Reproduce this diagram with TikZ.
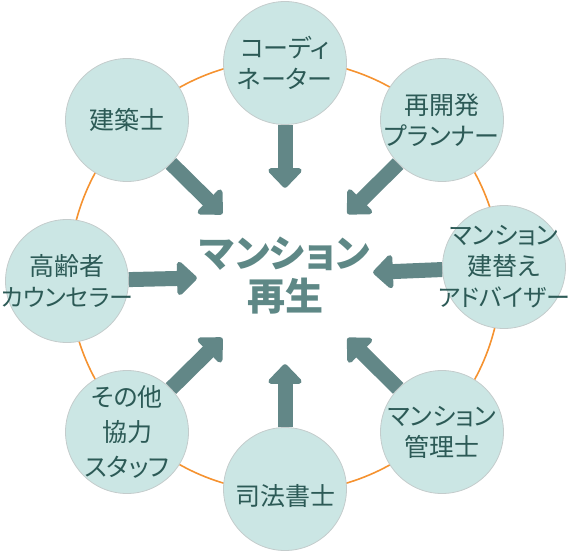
\documentclass[tikz,border=0pt]{standalone}
\usepackage{fontspec}
\newfontfamily\jp[RawFeature=+palt]{Noto Sans CJK JP}
\usetikzlibrary{arrows.meta}
\definecolor{ringorange}{RGB}{245,146,48}
\definecolor{bubblefill}{RGB}{203,230,228}
\definecolor{bubbleline}{RGB}{196,204,204}
\definecolor{arrowteal}{RGB}{98,135,135}
\definecolor{labelteal}{RGB}{44,90,86}
\definecolor{hubteal}{RGB}{94,136,134}
\tikzset{
	bubble/.style={circle, draw=bubbleline, line width=0.8pt, fill=bubblefill, minimum size=123pt, inner sep=0pt},
	tag/.style={align=center, text=labelteal, inner sep=0pt, font=\jp\fontsize{25}{31}\selectfont},
	hubtag/.style={align=center, text=hubteal, inner sep=0pt, font=\jp\bfseries\fontsize{38}{43}\selectfont},
	push/.style={draw=arrowteal, line width=15pt, -{Triangle[width=39pt,length=21pt,round]}},
}

\begin{document}
\begin{tikzpicture}[x=1pt, y=-1pt]
		%%%%% START %%%%%
		\useasboundingbox (0,0) rectangle (570,552);
		
		\draw[ringorange, line width=1.6pt] (285,276) circle (216pt);
		
		\node[circle, minimum size=176pt] (hub) at (285,276) {};
		\node[hubtag] at (hub) {マンション\\再生};
		
		\node[bubble] (coord) at (285,63) {};
		\node[tag] at (coord) {コーディ\\ネーター};
		\node[bubble] (planner) at (442,120) {};
		\node[tag] at (planner) {再開発\\プランナー};
		\node[bubble] (adviser) at (504,267) {};
		\node[tag] at (adviser) {マンション\\建替え\\{\fontsize{24}{31}\selectfont アドバイザー}};
		\node[bubble] (manager) at (442,432) {};
		\node[tag] at (manager) {マンション\\管理士};
		\node[bubble] (scrivener) at (285,489) {};
		\node[tag] at ([yshift=-7pt]scrivener.center) {司法書士};
		\node[bubble] (staff) at (127,432) {};
		\node[tag] at (staff) {その他\\[4pt]協力\\[4pt]スタッフ};
		\node[bubble] (counselor) at (67,281) {};
		\node[tag] at (counselor) {高齢者\\{\fontsize{24}{31}\selectfont カウンセラー}};
		\node[bubble] (architect) at (127,120) {};
		\node[tag] at (architect) {建築士};
		
		\foreach \n in {coord,planner,adviser,manager,scrivener,staff,counselor,architect}
			\draw[push] (\n) -- (hub);
		
		%%%%% END %%%%%
\end{tikzpicture}
\end{document}
